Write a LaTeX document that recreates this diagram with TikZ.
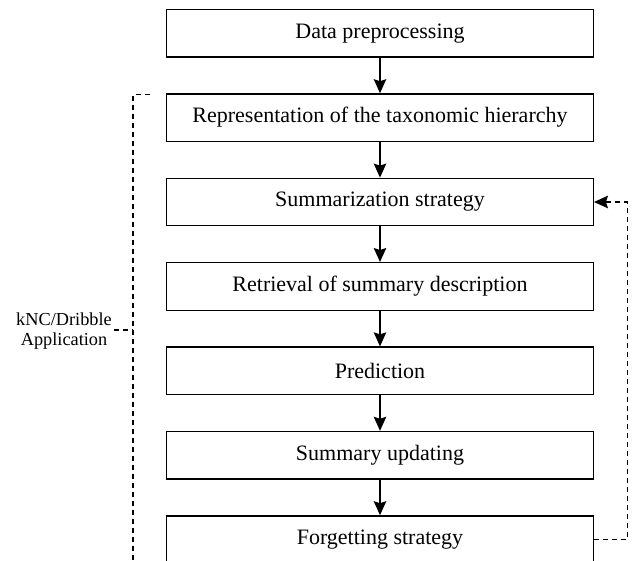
\documentclass[tikz,border=0pt]{standalone}
\usepackage{fontspec}
\setmainfont{Liberation Serif}
\usetikzlibrary{arrows.meta,calc}
\begin{document}
\begin{tikzpicture}[x=1pt,y=-1pt,
  stepbox/.style={draw, line width=1.3pt, minimum width=426.6pt, minimum height=47.5pt,
    inner sep=0pt, font=\fontsize{22}{26}\selectfont, anchor=center},
  flow/.style={line width=1.3pt, -{Stealth[length=14pt,width=12.5pt,inset=2pt]}},
  loop/.style={line width=1.3pt, dash pattern=on 5pt off 4pt},
  looparrow/.style={loop, -{Stealth[length=14pt,width=12.5pt,inset=2pt]}}]
\useasboundingbox (0,0) rectangle (642,560);
\node[stepbox] (s1) at (380,33.2) {Data preprocessing};
\node[stepbox] (s2) at (380,117.6) {Representation of the taxonomic hierarchy};
\node[stepbox] (s3) at (380,202.0) {Summarization strategy};
\node[stepbox] (s4) at (380,286.4) {Retrieval of summary description};
\node[stepbox] (s5) at (380,370.8) {Prediction};
\node[stepbox] (s6) at (380,455.2) {Summary updating};
\node[stepbox] (s7) at (380,539.6) {Forgetting strategy};
\foreach \a/\b in {s1/s2,s2/s3,s3/s4,s4/s5,s5/s6,s6/s7}
  \draw[flow] (\a.south) -- (\b.north);
% feedback loop
\coordinate (rc) at (627.3,539.6);
\draw[looparrow] (s7.east) -- (rc) |- (s3.east);
% left bracket
\coordinate (lt) at (150,94.5);
\coordinate (lc) at (133,94.5);
\coordinate (lb) at (133,575);
\draw[loop] (lt) -- (lc) -- (lb);
\node[font=\fontsize{18.3}{19.5}\selectfont, align=center, inner sep=2pt, anchor=east] (lab) at (114,331) {kNC/Dribble\\Application};
\coordinate (lj) at (133,330);
\draw[loop] (lab.east |- lj) -- (lj);
\end{tikzpicture}
\end{document}
